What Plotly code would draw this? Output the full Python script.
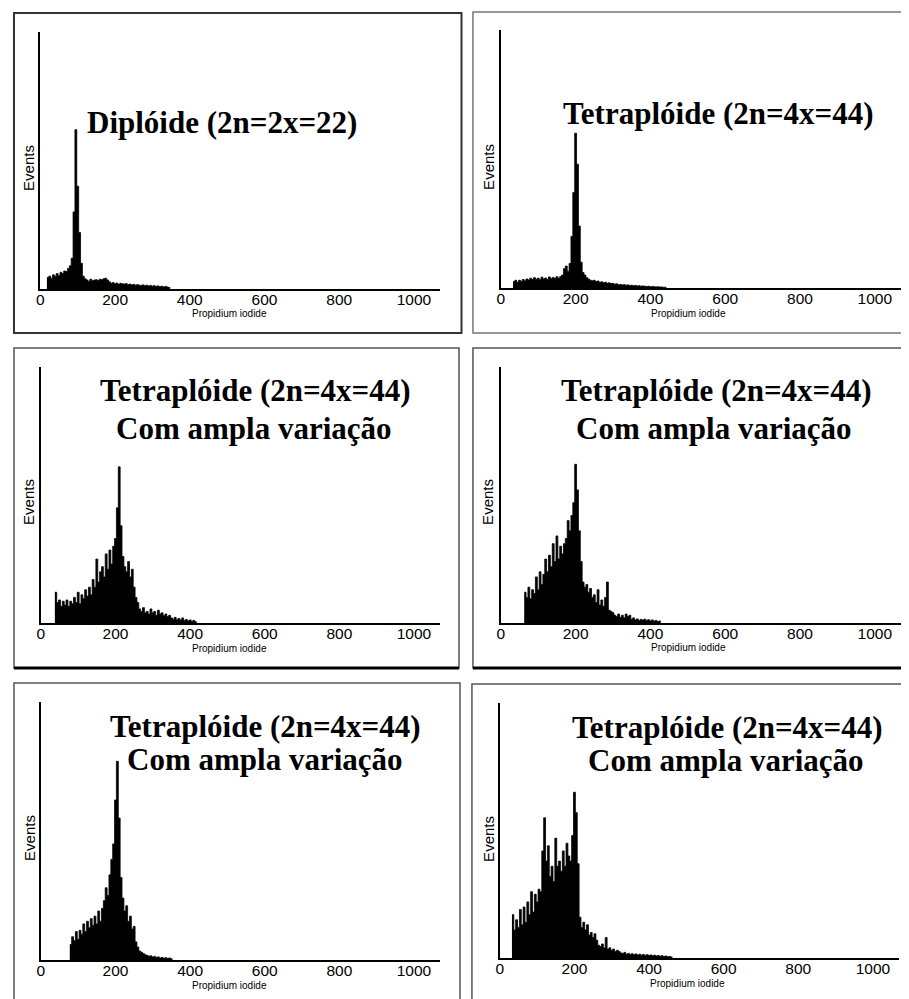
import plotly.graph_objects as go

# Page geometry: the browser adds an 8px body margin, so the figure is drawn
# 8px in from the top-left corner of the 909x999 window.
PAGE_W, PAGE_H = 909, 999
OFF = 8
W, H = PAGE_W - OFF, PAGE_H - OFF
BIN = 5  # channel bin width

x_tickvals = [0, 200, 400, 600, 800, 1000]
x_ticktext = ["0", "200", "400", "600", "800", "1000"]
x_label = "Propidium iodide"
y_label = "Events"

# ---- Panel 1: Diplóide ----
p1_title = ["Diplóide (2n=2x=22)"]
p1_start = 20
p1_counts = [4.5, 5, 4.2, 5.5, 5, 6, 5.2, 6.5, 6, 7, 6.8, 8, 9, 12, 30, 62, 40, 22, 10, 5,
             4, 3.5, 3, 3.8, 3.2, 3.5, 3.6, 3.3, 3.8, 3.6, 4, 4.2, 3.5, 2.8, 2.2, 2.5, 2, 2.3, 1.8, 2.2,
             2, 1.9, 2.1, 1.7, 1.9, 1.6, 1.8, 1.5, 1.7, 1.5, 1.4, 1.6, 1.3, 1.5, 1.2, 1.4, 1.1, 1.3, 1.0, 1.2,
             0.9, 1.1, 0.8, 1.0, 0.8, 0.6]

# ---- Panel 2: Tetraplóide ----
p2_title = ["Tetraplóide (2n=4x=44)"]
p2_start = 35
p2_counts = [2.5, 3, 2.2, 3, 2.6, 3.3, 2.8, 3.5, 3.1, 3.8, 3.3, 4, 3.4, 3.8, 3.2, 4.2, 3.5, 3.9, 3.3, 4.3,
             3.6, 4.1, 3.7, 4.4, 3.8, 4.5, 5, 7.5, 8.5, 6.5, 9.5, 20, 37, 60, 48, 24, 10, 6, 5, 4,
             3.5, 3, 2.8, 3, 2.5, 2.7, 2.2, 2.4, 2, 2.2, 1.8, 2, 1.7, 1.8, 1.5, 1.6, 1.3, 1.4, 1.2, 1.3,
             1.1, 1.2, 1.0, 1.1, 0.9, 1.0, 0.8, 0.9, 0.7, 0.8, 0.7, 0.6, 0.7, 0.5, 0.6, 0.5, 0.4, 0.5, 0.4, 0.4,
             0.3, 0.3]

# ---- Panel 3 ----
p3_title = ["Tetraplóide (2n=4x=44)", "Com ampla variação"]
p3_start = 40
p3_counts = [12, 8, 9, 6.5, 8.5, 7, 9, 6.5, 8.5, 7.5, 10, 8, 12, 7.5, 11, 9.5, 13, 10.5, 14, 11,
             17, 14, 25, 16, 20, 22, 18, 27, 21, 28.5, 23, 30, 33, 45, 61, 38, 26, 22, 20, 24,
             18, 21, 14, 10, 8, 5.5, 4.5, 6, 4, 4.5, 3.5, 5.5, 4, 4.5, 3, 5, 3.5, 4, 2.8, 3.5,
             2.5, 3, 2, 1.5, 2.2, 1.3, 1.8, 1.2, 2, 1, 1.4, 0.8, 1.2, 0.7, 1, 0.5]

# ---- Panel 4 ----
p4_title = ["Tetraplóide (2n=4x=44)", "Com ampla variação"]
p4_start = 65
p4_counts = [12, 10, 14, 9.5, 13, 11.5, 18, 13, 20, 15, 19, 25, 20, 26.5, 22, 31, 24, 34, 25, 30,
             27, 31, 33, 40, 36, 42, 47, 62, 52, 36, 24, 16, 14, 15, 12, 13.5, 10, 11, 8, 13,
             7, 9, 6.5, 10, 16, 5, 4.5, 4, 3, 2.5, 3.5, 2.2, 3, 2, 3.5, 2.5, 3, 1.5, 2, 1.2,
             1.6, 1, 1.4, 1.2, 1.5, 1, 1.3, 0.8, 1.2, 0.7, 1, 0.6, 0.8]

# ---- Panel 5 ----
p5_title = ["Tetraplóide (2n=4x=44)", "Com ampla variação"]
p5_start = 80
p5_counts = [6, 9, 7.5, 11, 8, 11.5, 10, 14, 11, 15, 12.5, 16, 13.5, 17, 14, 19, 15, 20, 23, 28,
             25, 33, 39, 45, 62, 77, 55, 32, 24, 19, 21, 15, 17, 12, 13, 7, 5, 3.5, 3, 2.5,
             2, 1.8, 1.5, 1.6, 1.2, 1.4, 1.0, 1.2, 0.8, 1.0, 0.7, 0.9, 0.6, 0.8, 0.5]

# ---- Panel 6 ----
p6_title = ["Tetraplóide (2n=4x=44)", "Com ampla variação"]
p6_start = 35
p6_counts = [17, 11, 15, 12, 19, 13, 20, 14, 22, 17, 26, 18, 25, 22, 27, 26, 42, 55, 38, 44,
             32, 36, 30, 47, 36, 38, 34, 42, 36, 45, 40, 38, 48, 65, 57, 37, 16, 12, 14, 11,
             13, 9, 10, 8, 9.5, 7, 5, 4.5, 5.5, 4, 8, 3.5, 4, 3, 3.5, 2.5, 3, 2.5, 2, 1.8,
             2.2, 1.5, 1.8, 1.4, 1.7, 1.3, 1.6, 1.2, 1.5, 1.1, 1.4, 1.0, 1.3, 1.0, 1.2, 0.9, 1.1, 0.8, 1.0, 0.7,
             0.9, 0.6, 0.8, 0.5, 0.6, 0.4]

# ---- layout geometry (page pixels) ----
panels = [
    dict(start=p1_start, counts=p1_counts, title=p1_title,
         dom=(36.5, 438, 32, 289), border=(10, 459.5, 13, 333), bcol="#333333", bw=2,
         tpos=[(219, 122.5)], ev=(25, 168), pi=(226, 313)),
    dict(start=p2_start, counts=p2_counts, title=p2_title,
         dom=(499, 901, 30, 288), border=(471, 915, 12, 333), bcol="#777777", bw=1.5,
         tpos=[(718, 113.5)], ev=(486, 167), pi=(688, 313)),
    dict(start=p3_start, counts=p3_counts, title=p3_title,
         dom=(37, 438, 367, 623), border=(10, 457, 348, 668), bcol="#555555", bw=1.5,
         tpos=[(252.5, 391), (251, 428.5)], ev=(25, 502), pi=(226, 648)),
    dict(start=p4_start, counts=p4_counts, title=p4_title,
         dom=(499, 901, 367, 623), border=(471, 915, 348, 668), bcol="#555555", bw=1.5,
         tpos=[(716, 391), (713, 428.5)], ev=(486, 502), pi=(688, 647)),
    dict(start=p5_start, counts=p5_counts, title=p5_title,
         dom=(37, 438, 702, 960), border=(10, 458, 683, 1005), bcol="#555555", bw=1.5,
         tpos=[(263, 726.5), (262, 759)], ev=(25, 838), pi=(226, 985.5)),
    dict(start=p6_start, counts=p6_counts, title=p6_title,
         dom=(498, 899, 703, 958), border=(470, 915, 684, 1005), bcol="#555555", bw=1.5,
         tpos=[(727, 727), (725, 760)], ev=(486, 839), pi=(687, 983)),
]


def fx(p):
    return (p - OFF) / W


def fy(p):
    return 1 - (p - OFF) / H


fig = go.Figure()
layout = dict(width=W, height=H, margin=dict(l=0, r=0, t=0, b=0),
              paper_bgcolor="white", plot_bgcolor="white", showlegend=False)
annotations = []
shapes = []

for i, p in enumerate(panels, 1):
    suf = "" if i == 1 else str(i)
    n = len(p["counts"])
    # step-histogram outline: left edges of every bin plus the closing right edge
    edges = [p["start"] - BIN / 2 + BIN * k for k in range(n + 1)]
    heights = list(p["counts"]) + [p["counts"][-1]]
    fig.add_trace(go.Scatter(x=edges, y=heights, mode="lines", line=dict(color="black", width=0.8, shape="hv"),
                             fill="tozeroy", fillcolor="black",
                             xaxis="x" + suf, yaxis="y" + suf, hoverinfo="x+y"))
    x0, x1, y0, y1 = p["dom"]
    layout["xaxis" + suf] = dict(domain=[fx(x0), fx(x1)], range=[0, 1070], anchor="y" + suf,
                                 tickvals=x_tickvals, ticktext=x_ticktext, ticks="",
                                 ticklabelstandoff=-5,
                                 showline=True, linecolor="black", linewidth=2,
                                 showgrid=False, zeroline=False,
                                 tickfont=dict(family="Liberation Sans, Arial", size=15.5, color="black"))
    layout["yaxis" + suf] = dict(domain=[fy(y1), fy(y0)], range=[0, 100], anchor="x" + suf,
                                 showline=True, linecolor="black", linewidth=1.5,
                                 showticklabels=False, ticks="", showgrid=False, zeroline=False)
    bx0, bx1, by0, by1 = p["border"]
    shapes.append(dict(type="rect", xref="paper", yref="paper",
                       x0=fx(bx0), x1=fx(bx1), y0=fy(by1), y1=fy(by0),
                       line=dict(color=p["bcol"], width=p["bw"]), layer="below"))
    for txt, (tx, ty) in zip(p["title"], p["tpos"]):
        annotations.append(dict(text=txt, x=fx(tx), y=fy(ty), xref="paper", yref="paper",
                                xanchor="center", yanchor="middle", showarrow=False,
                                font=dict(family="Liberation Serif, Times New Roman", size=31,
                                          color="black", weight="bold")))
    annotations.append(dict(text=y_label, x=fx(p["ev"][0]), y=fy(p["ev"][1]), xref="paper", yref="paper",
                            xanchor="center", yanchor="middle", showarrow=False, textangle=-90,
                            font=dict(family="Liberation Sans, Arial", size=15, color="black")))
    annotations.append(dict(text=x_label, x=fx(p["pi"][0]), y=fy(p["pi"][1]), xref="paper", yref="paper",
                            xanchor="center", yanchor="middle", showarrow=False,
                            font=dict(family="Liberation Sans, Arial", size=10, color="black")))

# darker bottom edges of the middle row frames
for (bx0, bx1, by) in [(10, 457, 668), (471, 915, 668)]:
    shapes.append(dict(type="line", xref="paper", yref="paper",
                       x0=fx(bx0), x1=fx(bx1), y0=fy(by), y1=fy(by),
                       line=dict(color="black", width=3)))

layout["annotations"] = annotations
layout["shapes"] = shapes
fig.update_layout(**layout)
fig.write_html("out.html")
